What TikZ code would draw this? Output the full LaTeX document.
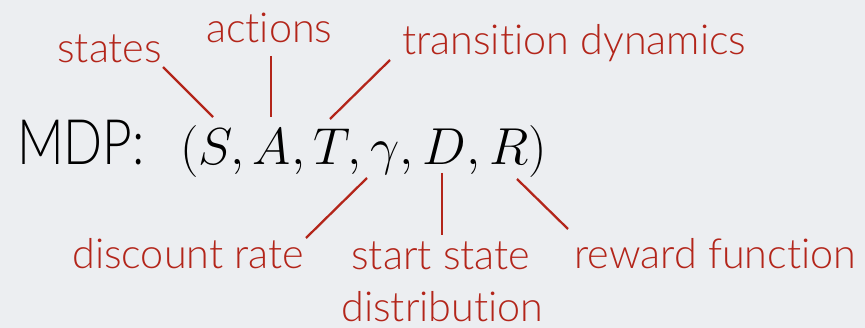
\RequirePackage{fix-cm}
\documentclass[tikz,border=0pt]{standalone}
\usepackage{fontspec}
\setmainfont{Lato Light}[Ligatures={NoCommon,NoRare,NoContextual}]
\definecolor{bg}{HTML}{ECEEF1}
\definecolor{lab}{HTML}{B3251A}
\begin{document}
\begin{tikzpicture}[x=0.75pt,y=-0.75pt,
  lbl/.style={inner sep=0pt,anchor=base west,text=lab,font=\fontsize{31}{35}\selectfont},
  conn/.style={draw=lab,line width=1.7pt}]
\fill[bg] (0,0) rectangle (865,328);
\useasboundingbox (0,0) rectangle (865,328);
\node[inner sep=0pt,anchor=base west,xscale=0.82,font=\fontsize{47}{52}\selectfont] (mdp) at (17,165) {MDP:};
\node[inner sep=0pt,anchor=base west,font=\fontsize{39}{42}\selectfont] (tuple) at (180,165) {$(S,A,T,\gamma,D,R)$};
\node[lbl] (states) at (57,63) {states};
\node[lbl] (actions) at (206,43) {actions};
\node[lbl] (trans) at (402,55) {transition dynamics};
\node[lbl] (disc) at (72,268) {discount rate};
\node[lbl] (start) at (351,269) {start state};
\node[lbl] (distr) at (341,321) {distribution};
\node[lbl] (reward) at (574,268) {reward function};
\coordinate (s1) at (163,67); \coordinate (s2) at (213,117);
\coordinate (a1) at (271,56); \coordinate (a2) at (271,117);
\coordinate (t1) at (390,60); \coordinate (t2) at (330,119);
\coordinate (g1) at (367,178); \coordinate (g2) at (306,238);
\coordinate (d1) at (442,173); \coordinate (d2) at (442,235);
\coordinate (r1) at (517,179); \coordinate (r2) at (568,229);
\draw[conn] (s1) -- (s2);
\draw[conn] (a1) -- (a2);
\draw[conn] (t1) -- (t2);
\draw[conn] (g1) -- (g2);
\draw[conn] (d1) -- (d2);
\draw[conn] (r1) -- (r2);
\end{tikzpicture}
\end{document}
